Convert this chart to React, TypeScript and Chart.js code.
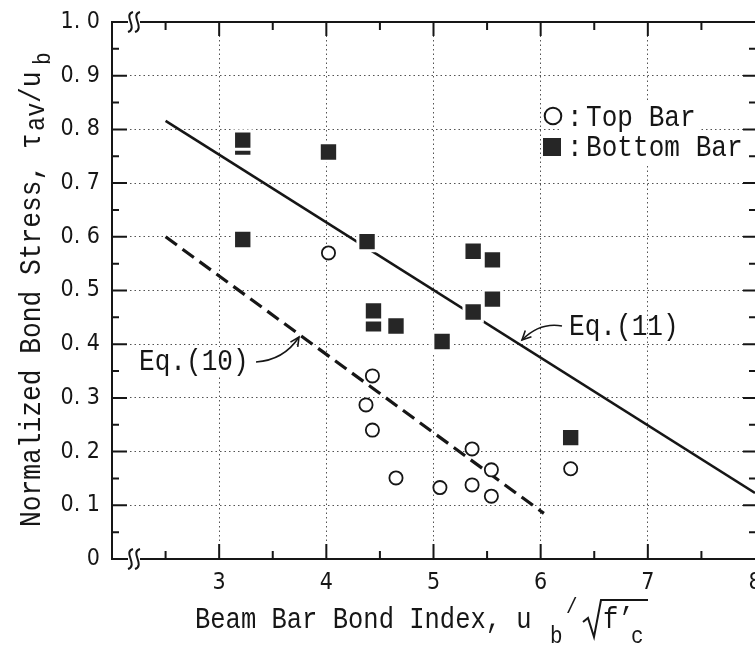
import { useEffect, useRef } from 'react';
import { Chart, registerables } from 'chart.js';

Chart.register(...registerables);

// ---- Data ----
const topBarX = [4.02, 4.43, 4.37, 4.43, 4.65, 5.06, 5.36, 5.36, 5.54, 5.54, 6.28];
const topBarY = [0.570, 0.341, 0.287, 0.240, 0.151, 0.133, 0.205, 0.138, 0.166, 0.117, 0.168];

const bottomBarX = [3.22, 3.22, 3.22, 4.02, 4.38, 4.44, 4.44, 4.65, 5.08, 5.37, 5.37, 5.55, 5.55, 6.28];
const bottomBarY = [0.767, 0.780, 0.595, 0.758, 0.591, 0.438, 0.462, 0.434, 0.405, 0.573, 0.460, 0.557, 0.484, 0.226];

const eq10X = [2.5, 6.03];
const eq10Y = [0.600, 0.085];
const eq11X = [2.5, 8.0];
const eq11Y = [0.816, 0.123];

const xTickValues = [2, 3, 4, 5, 6, 7, 8];
const xTickLabels = ['', '3', '4', '5', '6', '7', '8'];
const yTickValues = [0, 0.1, 0.2, 0.3, 0.4, 0.5, 0.6, 0.7, 0.8, 0.9, 1.0];
const yTickLabels = ['0', '0. 1', '0. 2', '0. 3', '0. 4', '0. 5', '0. 6', '0. 7', '0. 8', '0. 9', '1. 0'];

const MONO = '"Liberation Mono", "DejaVu Sans Mono", monospace';
const NARROW = '"Liberation Sans Narrow", "DejaVu Sans Condensed", "Arial Narrow", "Roboto Condensed", sans-serif';
const INK = '#161616';

function txt(ctx: CanvasRenderingContext2D, s: string, x: number, y: number, size: number, sx: number) {
  ctx.save();
  ctx.translate(x, y);
  ctx.scale(sx, 1);
  ctx.font = `${size}px ${MONO}`;
  ctx.textBaseline = 'alphabetic';
  ctx.textAlign = 'left';
  ctx.fillStyle = INK;
  ctx.fillText(s, 0, 0);
  ctx.restore();
}

function arrow(ctx: CanvasRenderingContext2D, x0: number, y0: number, cx: number, cy: number, x1: number, y1: number) {
  ctx.beginPath();
  ctx.moveTo(x0, y0);
  ctx.quadraticCurveTo(cx, cy, x1, y1);
  ctx.stroke();
  const a = Math.atan2(y1 - cy, x1 - cx);
  const L = 10, w = 0.45;
  ctx.beginPath();
  ctx.moveTo(x1 - L * Math.cos(a - w), y1 - L * Math.sin(a - w));
  ctx.lineTo(x1, y1);
  ctx.lineTo(x1 - L * Math.cos(a + w), y1 - L * Math.sin(a + w));
  ctx.stroke();
}

function squiggle(ctx: CanvasRenderingContext2D, x: number, y: number) {
  ctx.beginPath();
  ctx.moveTo(x + 2.5, y - 10);
  ctx.bezierCurveTo(x - 8, y - 7, x + 8, y + 6, x - 2.5, y + 10);
  ctx.stroke();
}

const decorPlugin = {
  id: 'decor',
  afterDraw(chart: any) {
    const ctx: CanvasRenderingContext2D = chart.ctx;
    const { left, right, top, bottom } = chart.chartArea;
    const xs = chart.scales.x;
    const ys = chart.scales.y;
    ctx.save();
    ctx.strokeStyle = INK;
    ctx.fillStyle = INK;
    ctx.lineCap = 'butt';

    // frame
    ctx.lineWidth = 2;
    const gapA = left + 16, gapB = left + 28;
    ctx.beginPath();
    ctx.moveTo(left, top); ctx.lineTo(left, bottom);
    ctx.moveTo(left - 1, top); ctx.lineTo(gapA, top);
    ctx.moveTo(gapB, top); ctx.lineTo(right + 2, top);
    ctx.moveTo(left - 1, bottom); ctx.lineTo(gapA, bottom);
    ctx.moveTo(gapB, bottom); ctx.lineTo(right + 2, bottom);
    ctx.moveTo(right + 1, top); ctx.lineTo(right + 1, bottom);
    ctx.stroke();

    // break marks
    ctx.lineWidth = 2;
    squiggle(ctx, gapA + 2.5, top);
    squiggle(ctx, gapB - 2.5, top);
    squiggle(ctx, gapA + 2.5, bottom);
    squiggle(ctx, gapB - 2.5, bottom);

    // inward ticks
    ctx.lineWidth = 2;
    ctx.beginPath();
    for (let i = 1; i < 12; i++) {
      const v = 2 + i * 0.5;
      const px = xs.getPixelForValue(v);
      const major = i % 2 === 0;
      ctx.moveTo(px, bottom); ctx.lineTo(px, bottom - (major ? 15 : 8));
      ctx.moveTo(px, top); ctx.lineTo(px, top + (major ? 14 : 8));
    }
    for (let i = 1; i < 20; i++) {
      const v = i * 0.05;
      const py = ys.getPixelForValue(v);
      const major = i % 2 === 0;
      ctx.moveTo(left, py); ctx.lineTo(left + (major ? 15 : 7), py);
      ctx.moveTo(right, py); ctx.lineTo(right - (major ? 12 : 6), py);
    }
    ctx.stroke();

    // legend
    ctx.fillStyle = '#fff';
    ctx.fillRect(561, 103, 140, 62);
    ctx.lineWidth = 2;
    ctx.strokeStyle = INK;
    ctx.beginPath();
    ctx.arc(553, 116, 8.3, 0, Math.PI * 2);
    ctx.stroke();
    ctx.fillStyle = '#262626';
    ctx.fillRect(543, 138, 18, 18);
    txt(ctx, ':', 567, 126, 30, 0.87);
    txt(ctx, 'Top Bar', 586, 126, 30, 0.87);
    txt(ctx, ':', 567, 156, 30, 0.87);
    txt(ctx, 'Bottom Bar', 586, 156, 30, 0.87);

    // Eq.(10)
    ctx.fillStyle = '#fff';
    ctx.fillRect(137, 347, 114, 30);
    txt(ctx, 'Eq.(10)', 139, 370, 30, 0.87);
    ctx.lineWidth = 1.6;
    ctx.strokeStyle = INK;
    arrow(ctx, 256, 362, 284, 360, 299, 337);

    // Eq.(11)
    txt(ctx, 'Eq.(11)', 569, 335, 30, 0.87);
    arrow(ctx, 562, 326, 540, 322, 522, 340);

    // x-axis title
    txt(ctx, 'Beam Bar Bond Index, u', 195, 628, 30, 0.85);
    txt(ctx, 'b', 550, 643, 24, 0.87);
    txt(ctx, '/', 566, 613, 22, 0.87);
    ctx.lineWidth = 2;
    ctx.beginPath();
    ctx.moveTo(583, 622);
    ctx.lineTo(588, 618);
    ctx.lineTo(594, 637);
    ctx.lineTo(601, 600);
    ctx.lineTo(648, 600);
    ctx.stroke();
    txt(ctx, 'f\u2019', 603, 628, 30, 0.85);
    txt(ctx, 'c', 631, 643, 24, 0.87);

    // y-axis title (rotated)
    ctx.save();
    ctx.translate(40, 527);
    ctx.rotate(-Math.PI / 2);
    txt(ctx, 'Normalized Bond Stress, \u03c4', 0, 0, 30, 0.875);
    txt(ctx, 'av', 396, 4, 27, 0.875);
    txt(ctx, '/u', 424, 0, 30, 0.875);
    txt(ctx, 'b', 462, 10, 24, 0.875);
    ctx.restore();

    ctx.restore();
  },
};

export default function App() {
  const ref = useRef<HTMLCanvasElement | null>(null);

  useEffect(() => {
    if (!ref.current) return;
    const gridColor = (min: number, max: number) => (c: any) => {
      const v = c.tick ? c.tick.value : NaN;
      return Math.abs(v - min) < 1e-9 || Math.abs(v - max) < 1e-9 ? 'rgba(0,0,0,0)' : 'rgba(25,25,25,0.75)';
    };
    const chart = new Chart(ref.current, {
      type: 'scatter',
      data: {
        datasets: [
          {
            label: 'Bottom Bar',
            data: bottomBarX.map((x, i) => ({ x, y: bottomBarY[i] })),
            pointStyle: 'rect',
            pointRadius: 13,
            borderWidth: 3,
            borderColor: '#ffffff',
            backgroundColor: '#262626',
            showLine: false,
            order: 0,
          },
          {
            label: 'Top Bar',
            data: topBarX.map((x, i) => ({ x, y: topBarY[i] })),
            pointStyle: 'circle',
            pointRadius: 6.6,
            borderWidth: 1.8,
            borderColor: INK,
            backgroundColor: '#ffffff',
            showLine: false,
            order: 0,
          },
          {
            label: 'Eq.(11)',
            data: eq11X.map((x, i) => ({ x, y: eq11Y[i] })),
            showLine: true,
            borderColor: INK,
            borderWidth: 2.6,
            pointRadius: 0,
            order: 1,
          },
          {
            label: 'Eq.(10)',
            data: eq10X.map((x, i) => ({ x, y: eq10Y[i] })),
            showLine: true,
            borderColor: INK,
            borderWidth: 3.2,
            borderDash: [14, 7],
            pointRadius: 0,
            order: 1,
          },
        ],
      },
      options: {
        animation: false,
        responsive: false,
        maintainAspectRatio: false,
        events: [],
        layout: { autoPadding: false, padding: { left: 0, right: 0, top: 22, bottom: 0 } },
        plugins: { legend: { display: false }, tooltip: { enabled: false } },
        scales: {
          x: {
            type: 'linear',
            min: 2,
            max: 8,
            afterBuildTicks: (s: any) => {
              s.ticks = xTickValues.map((v) => ({ value: v }));
            },
            afterFit: (s: any) => {
              s.height = 86;
              s.paddingLeft = 0;
              s.paddingRight = 0;
            },
            ticks: {
              callback: (_v: any, i: number) => xTickLabels[i],
              autoSkip: false,
              maxRotation: 0,
              padding: 10,
              color: INK,
              font: { family: NARROW, size: 23 },
            },
            grid: { color: gridColor(2, 8), lineWidth: 1, drawTicks: false },
            border: { display: false, dash: [1.5, 3] },
          },
          y: {
            type: 'linear',
            min: 0,
            max: 1,
            afterBuildTicks: (s: any) => {
              s.ticks = yTickValues.map((v) => ({ value: v }));
            },
            afterFit: (s: any) => {
              s.width = 112;
              s.paddingTop = 0;
              s.paddingBottom = 0;
            },
            ticks: {
              callback: (_v: any, i: number) => yTickLabels[i],
              autoSkip: false,
              padding: 12,
              color: INK,
              font: { family: NARROW, size: 23 },
            },
            grid: { color: gridColor(0, 1), lineWidth: 1, drawTicks: false },
            border: { display: false, dash: [1.5, 3] },
          },
        },
      },
      plugins: [decorPlugin],
    } as any);
    return () => chart.destroy();
  }, []);

  return (
    <div style={{ position: 'fixed', left: 0, top: 0, width: 755, height: 645, background: '#fff' }}>
      <canvas ref={ref} width={755} height={645} style={{ display: 'block' }} />
    </div>
  );
}
